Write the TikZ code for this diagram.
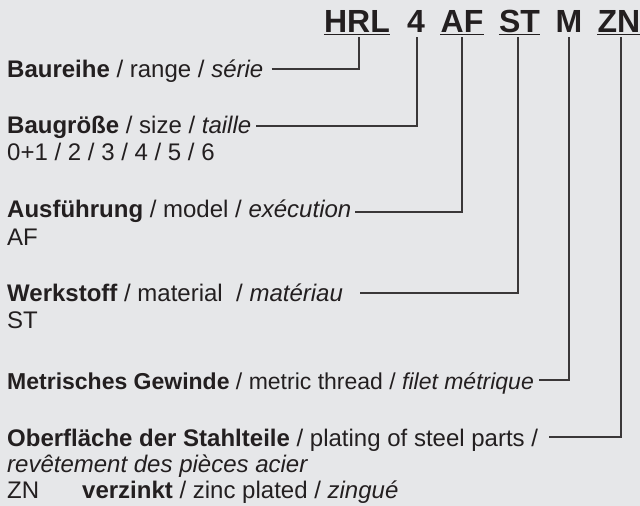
\documentclass[tikz,border=0pt]{standalone}
\usepackage{fontspec}
\setmainfont{Liberation Sans}
\definecolor{bg}{HTML}{E6E7E9}
\definecolor{ink}{HTML}{231F20}
\definecolor{wirec}{HTML}{3A3738}
\begin{document}
\begin{tikzpicture}[x=1pt,y=-1pt,
  code/.style={anchor=base, inner sep=0pt, text=ink, font=\fontsize{32}{36}\selectfont\bfseries},
  lab/.style={anchor=base west, inner sep=0pt, text=ink, font=\fontsize{24}{28}\selectfont},
  labn/.style={lab, font=\fontsize{23}{27}\selectfont},
  wire/.style={draw=wirec, line width=1.3pt},
  uline/.style={draw=ink, line width=1.6pt}]
\useasboundingbox (0,0) rectangle (640,506);
\fill[bg] (0,0) rectangle (640,506);
% header codes
\node[code] (hrl) at (357,32) {HRL};
\node[code] (n4) at (416,32) {4};
\node[code] (af) at (462,32) {AF};
\node[code] (st) at (519.5,32) {ST};
\node[code] (m) at (569,32) {M};
\node[code] (zn) at (619,32) {ZN};
\foreach \n in {hrl,af,st,zn}
  \draw[uline] ([yshift=-2.6pt]\n.base west) -- ([yshift=-2.6pt]\n.base east);
% tops of connectors
\coordinate (t1) at (359,37);
\coordinate (t2) at (417,37);
\coordinate (t3) at (462,37);
\coordinate (t4) at (518,37);
\coordinate (t5) at (569,37);
\coordinate (t6) at (621,37);
% corners
\coordinate (c1) at (359,69);
\coordinate (c2) at (417,126);
\coordinate (c3) at (462,212);
\coordinate (c4) at (518,293);
\coordinate (c5) at (569,380);
\coordinate (c6) at (621,437);
% labels
\node[lab] (l1) at (7,77) {\textbf{Baureihe} / range / \textit{série}};
\node[lab] (l2) at (7,133) {\textbf{Baugröße} / size / \textit{taille}};
\node[lab] (l2v) at (7,160) {0+1 / 2 / 3 / 4 / 5 / 6};
\node[lab] (l3) at (7,217) {\textbf{Ausführung} / model / \textit{exécution}};
\node[lab] (l3v) at (7,245) {AF};
\node[lab] (l4) at (7,301) {\textbf{Werkstoff} / material\ \ / \textit{matériau}};
\node[lab] (l4v) at (7,328) {ST};
\node[labn] (l5) at (7,389) {\textbf{Metrisches Gewinde} / metric thread / \textit{filet métrique}};
\node[lab] (l6) at (7,446) {\textbf{Oberfläche der Stahlteile} / plating of steel parts /};
\node[lab] (l6b) at (7,472) {\textit{revêtement des pièces acier}};
\node[lab] (l6v) at (7,498) {ZN};
\node[lab] (l6w) at (82,498) {\textbf{verzinkt} / zinc plated / \textit{zingué}};
% connectors
\draw[wire] ([xshift=8pt]l1.base east |- c1) -- (c1) -- (t1);
\draw[wire] ([xshift=5pt]l2.base east |- c2) -- (c2) -- (t2);
\draw[wire] ([xshift=4pt]l3.base east |- c3) -- (c3) -- (t3);
\draw[wire] ([xshift=17pt]l4.base east |- c4) -- (c4) -- (t4);
\draw[wire] ([xshift=5pt]l5.base east |- c5) -- (c5) -- (t5);
\draw[wire] ([xshift=11pt]l6.base east |- c6) -- (c6) -- (t6);
\end{tikzpicture}
\end{document}
